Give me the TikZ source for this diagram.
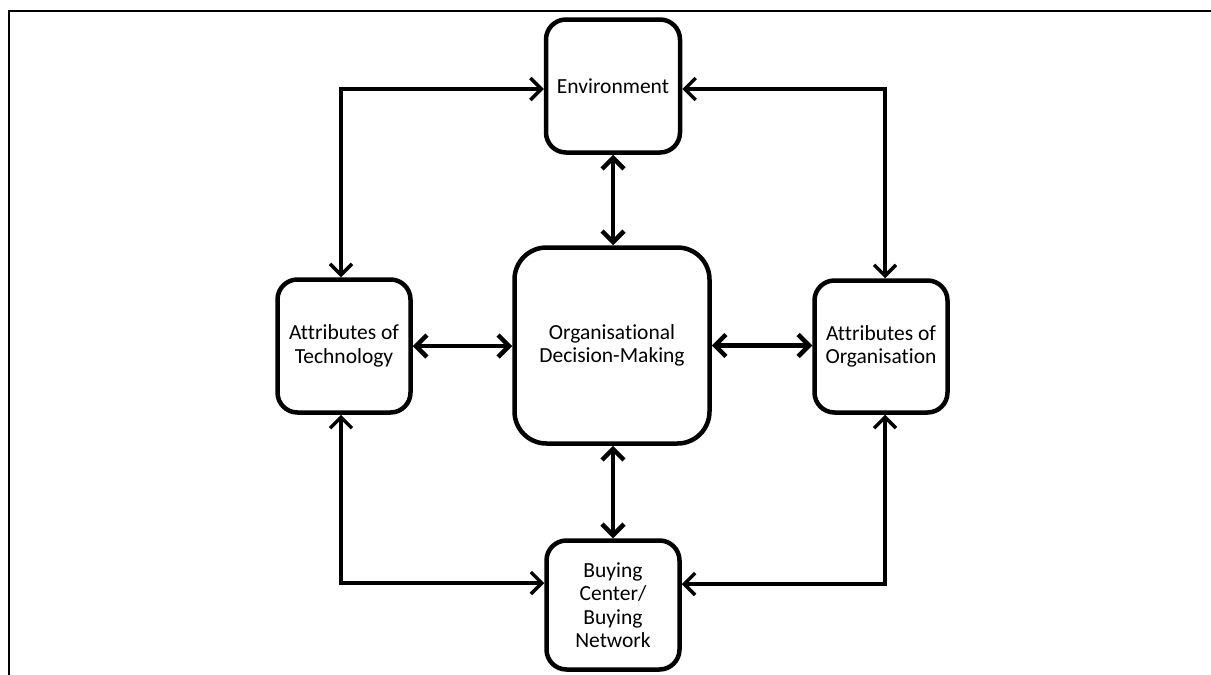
\documentclass[tikz,border=0pt]{standalone}
\usepackage{fontspec}
\setmainfont{Carlito}[Ligatures=NoCommon,RawFeature={-liga;-clig;-dlig}]
\usetikzlibrary{arrows.meta}
\tikzset{
  box/.style={draw, line width=4.5pt, rounded corners=20pt, inner sep=0pt, align=center,
    font=\fontsize{21.5}{23.5}\selectfont},
  mainarrow/.style={line width=4.5pt, {Straight Barb[length=11pt,width=22pt]}-{Straight Barb[length=11pt,width=22pt]}},
  looparrow/.style={line width=3.5pt, {Straight Barb[length=11pt,width=22pt]}-{Straight Barb[length=11pt,width=22pt]}},
}
\begin{document}
\begin{tikzpicture}[x=1pt,y=-1pt]
\useasboundingbox (0,0) rectangle (1211,675);
\draw[line width=2pt] (9,675) -- (9,10.5) -- (1211,10.5);
\node[box, minimum width=134pt, minimum height=133pt] (env) at (613,86) {Environment};
\node[box, minimum width=195pt, minimum height=196pt, rounded corners=32pt] (ctr) at (612,345.5) {Organisational\\Decision-Making};
\node[box, minimum width=133pt, minimum height=133pt] (tech) at (344,346) {Attributes of\\Technology};
\node[box, minimum width=133pt, minimum height=132pt] (org) at (881,346.5) {Attributes of\\Organisation};
\node[box, minimum width=133pt, minimum height=129pt] (buy) at (613,605) {Buying\\Center/\\Buying\\Network};
\draw[mainarrow] (env.south) -- (env.south |- ctr.north);
\draw[mainarrow] (ctr.south -| buy.north) -- (buy.north);
\draw[mainarrow] (tech.east) -- (tech.east -| ctr.west);
\draw[mainarrow] (ctr.east) -- (ctr.east -| org.west);
\draw[looparrow] ([xshift=-3pt]tech.north) |- ([yshift=-3pt]env.west);
\draw[looparrow] ([yshift=-3pt]env.east) -| ([xshift=4pt]org.north);
\draw[looparrow] ([xshift=-3pt]tech.south) |- ([yshift=22pt]buy.west);
\draw[looparrow] ([yshift=21pt]buy.east) -| ([xshift=4pt]org.south);
\end{tikzpicture}
\end{document}
